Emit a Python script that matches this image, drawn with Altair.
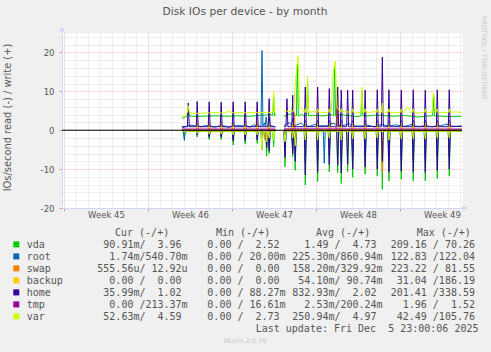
import altair as alt
import pandas as pd

# ---------------- static texts / categories ----------------
SERIES = ["vda", "root", "swap", "backup", "home", "tmp", "var"]
COLORS = ["#00CC00", "#0066B3", "#FF8000", "#FFCC00", "#330099", "#990099", "#CCFF00"]
TITLE = "Disk IOs per device - by month"
Y_TITLE = "IOs/second read (-) / write (+)"
HEADERS = ["Cur (-/+)", "Min (-/+)", "Avg (-/+)", "Max (-/+)"]
LEGEND_CUR = [" 90.91m/  3.96 ", "  1.74m/540.70m", "555.56u/ 12.92u", "  0.00 /  0.00 ",
              " 35.99m/  1.02 ", "  0.00 /213.37m", " 52.63m/  4.59 "]
LEGEND_MIN = ["  0.00 /  2.52 ", "  0.00 / 20.00m", "  0.00 /  0.00 ", "  0.00 /  0.00 ",
              "  0.00 / 88.27m", "  0.00 / 16.61m", "  0.00 /  2.73 "]
LEGEND_AVG = ["  1.49 /  4.73 ", "225.30m/860.94m", "158.20m/329.92m", " 54.10m/ 90.74m",
              "832.93m/  2.02 ", "  2.53m/200.24m", "250.94m/  4.97 "]
LEGEND_MAX = ["209.16 / 70.26 ", "122.83 /122.04 ", "223.22 / 81.55 ", " 31.04 /186.19 ",
              "201.41 /338.59 ", "  1.96 /  1.52 ", " 42.49 /105.76 "]
LAST_UPDATE = "Last update: Fri Dec  5 23:00:06 2025"
FOOTER = "Munin 2.0.76"
WATERMARK = "RRDTOOL / TOBI OETIKER"

# ---------------- axes (days since Monday of week 45) ----------------
WEEK_STARTS = [0, 7, 14, 21, 28]
WEEK_LABELS = ["Week 45", "Week 46", "Week 47", "Week 48", "Week 49"]
DAY_TICKS = list(range(0, 34))
Y_TICKS = list(range(-20, 25, 2))
X_MIN, X_MAX = -0.167, 33.17
Y_MIN, Y_MAX = -20, 25

# times of the nightly spikes
DAILY = [11.1, 12.1, 13.1, 14.1, 15.1, 16.1, 17.1,
         19.06, 20.11, 21.14, 22.11, 23.11, 24.06, 25.1, 26.11, 27.08, 28.11, 29.11, 30.11, 31.11, 32.11]
N = None

# ---------------- write (+) side ----------------
vda_w_base = [(9.83, 3.0), (10.1, 3.4), (10.6, 3.6), (11.5, 3.6), (12.5, 3.7), (13.5, 3.6), (14.5, 3.7),
              (15.5, 3.6), (16.3, 3.8), (17.3, 4.0), (17.62, 4.2), (18.33, 3.6), (18.9, 4.2), (19.8, 4.0),
              (20.7, 3.8), (21.6, 3.7), (22.3, 4.0), (23.0, 4.0), (23.9, 3.7), (24.5, 3.5), (25.5, 3.7),
              (26.0, 3.9), (27.5, 3.6), (28.4, 3.8), (29.5, 3.4), (30.5, 3.7), (31.5, 3.6), (32.5, 3.5),
              (33.15, 3.6)]
vda_w_daily = [N, N, N, N, N, N, N, N, N, N, N, N, N, N, N, N, N, N, N, N, N]
vda_w_extra = [(10.36, 5.8), (17.47, 8.8), (19.45, 17.0), (20.3, 12.5), (22.55, 16.5), (24.83, 10.0), (30.8, 8.5)]

root_w_base = [(9.83, 0.6), (10.5, 1.3), (11.4, 0.9), (11.8, 1.2), (12.5, 0.8), (13.4, 1.1), (13.8, 0.7),
               (14.6, 1.2), (15.5, 0.8), (15.8, 1.4), (16.3, 1.0), (16.7, 1.9), (17.3, 1.2), (17.62, 0.8),
               (18.33, 1.2), (18.8, 2.0), (19.4, 1.4), (19.8, 1.8), (20.5, 1.0), (21.0, 1.6), (21.7, 1.2),
               (22.3, 1.8), (23.0, 1.3), (23.8, 1.7), (24.5, 1.1), (25.3, 1.3), (25.9, 0.8), (26.4, 1.5),
               (27.0, 0.9), (27.6, 1.4), (28.4, 1.0), (29.0, 1.5), (29.6, 1.0), (30.2, 1.3), (30.7, 0.9),
               (31.4, 1.2), (32.0, 1.6), (32.6, 1.0), (33.15, 1.1)]
root_w_daily = [2.4, 2.0, 2.2, 2.0, 2.4, 2.0, 3.4, 3.0, 2.5, 2.5, 2.5, 2.5, 2.5, 2.5, 2.5, 2.5, 2.5, 2.5, 2.5, 2.5, 2.5]
root_w_extra = [(16.5, 20.5), (16.85, 3.4)]

swap_w_base = [(9.83, 0.05), (17.62, 0.05), (18.33, 0.05), (33.15, 0.05)]
swap_w_daily = [1.3, 1.3, 1.3, 1.3, 1.3, 1.3, 1.3, 1.5, 1.5, 1.5, 1.5, 1.5, 1.5, 1.5, 1.5, 1.5, 1.5, 1.5, 1.5, 1.5, 1.5]
swap_w_extra = [(19.2, 4.5), (22.75, 8.0)]

backup_w_base = [(9.83, 0.0), (17.62, 0.0), (18.33, 0.0), (33.15, 0.0)]
backup_w_daily = [2.5, 2.0, 2.0, 2.0, 2.0, 2.0, 2.0, 2.0, 2.0, 2.0, 2.0, 2.0, 2.0, 2.0, 2.0, 2.0, 2.0, 2.0, 2.0, 2.0, 2.0]
backup_w_extra = []

home_w_base = [(9.83, 0.9), (13.6, 0.85), (17.62, 0.9), (18.33, 0.9), (25.6, 1.0), (33.15, 1.0)]
home_w_daily = [7.4, 7.3, 7.2, 7.3, 7.3, 7.3, 8.1, 9.0, 11.1, 11.1, 10.7, 10.3, 10.3, 10.3, 10.4, 10.4, 10.3, 10.4, 10.3, 10.4, 10.4]
home_w_extra = [(10.36, 7.0), (18.58, 8.1), (22.81, 11.1), (23.64, 10.3), (26.53, 18.8)]

tmp_w_base = [(9.83, 0.3), (17.62, 0.3), (18.33, 0.35), (33.15, 0.3)]
tmp_w_daily = [N, N, N, N, N, N, N, N, N, N, N, N, N, N, N, N, N, N, N, N, N]
tmp_w_extra = []

var_w_base = [(9.83, 3.4), (10.1, 3.9), (10.7, 4.3), (11.6, 4.4), (12.6, 4.5), (13.4, 4.4), (13.75, 5.0),
              (14.0, 4.5), (15.0, 4.5), (16.0, 4.5), (16.8, 4.6), (17.62, 5.5), (18.33, 5.0), (18.9, 4.8),
              (19.15, 5.0), (19.27, 12.0), (19.5, 19.2), (19.65, 6.0), (19.9, 5.2), (20.8, 4.8), (21.5, 4.6),
              (22.28, 5.0), (22.39, 13.7), (22.61, 17.8), (22.75, 6.0), (23.3, 4.8), (24.2, 4.4), (25.5, 4.6),
              (26.0, 4.8), (27.5, 4.5), (28.3, 4.5), (28.6, 6.0), (28.75, 5.8), (28.9, 4.5), (29.4, 4.4),
              (30.3, 4.6), (30.68, 4.6), (30.78, 9.6), (30.86, 9.0), (30.95, 4.6), (31.5, 4.5), (32.5, 4.7),
              (33.15, 4.6)]
var_w_daily = [N, N, N, N, N, N, N, N, 5.5, 5.5, 5.5, 5.5, 5.5, 5.5, 5.5, 5.5, 5.5, 5.5, 5.5, 5.5, 5.5]
var_w_extra = [(10.36, 6.3), (17.47, 9.8), (20.3, 13.8), (24.83, 11.1), (26.53, 7.0)]

# ---------------- read (-) side ----------------
vda_r_base = [(9.83, -0.2), (12.6, -0.35), (17.62, -0.3), (18.33, -0.3), (21.6, -0.4), (27.6, -0.3), (33.15, -0.3)]
vda_r_daily = [-1.7, -2.4, -2.4, -3.8, -3.6, -3.4, -6.0, -6.8, -14.1, -13.2, -10.7, -13.7, -12.1, -11.3, -11.8,
               -13.0, -12.6, -13.0, -13.0, -12.4, -11.8]
vda_r_extra = [(10.03, -2.0), (16.5, -5.1), (16.89, -6.7), (17.47, -4.3), (18.42, -9.4), (19.27, -10.3),
               (22.81, -10.9), (23.64, -10.7), (26.53, -15.2)]

root_r_base = [(9.83, -0.1), (17.62, -0.1), (18.33, -0.15), (33.15, -0.1)]
root_r_daily = [-1.0, -1.5, -1.5, -2.2, -2.0, -2.0, -4.0, -5.0, -8.0, -7.5, -6.5, -8.0, -7.0, -7.0, -7.0,
                -7.5, -7.5, -7.5, -7.5, -7.0, -7.0]
root_r_extra = [(10.03, -2.6), (16.5, -4.5), (18.42, -6.0), (19.27, -6.5), (21.69, -8.5)]

swap_r_base = [(9.83, -0.05), (17.62, -0.05), (18.33, -0.05), (33.15, -0.05)]
swap_r_daily = [-0.4, -0.4, -0.4, -0.4, -0.4, -0.4, -0.4, -0.4, -0.4, -0.4, -0.4, -0.4, -0.4, -0.4, -0.4,
                -0.4, -0.4, -0.4, -0.4, -0.4, -0.4]
swap_r_extra = [(16.75, -2.5), (26.53, -10.7)]

backup_r_base = [(9.83, 0.0), (17.62, 0.0), (18.33, 0.0), (33.15, 0.0)]
backup_r_daily = [-0.6, -0.6, -0.6, -0.6, -0.6, -0.6, -0.6, -0.6, -0.6, -0.6, -0.6, -0.6, -0.6, -0.6, -0.6,
                  -0.6, -0.6, -0.6, -0.6, -0.6, -0.6]
backup_r_extra = []

home_r_base = [(9.83, -0.1), (17.62, -0.1), (18.33, -0.1), (33.15, -0.1)]
home_r_daily = [-1.2, -1.8, -1.8, -2.8, -2.7, -2.5, -5.4, -6.0, -11.5, -10.8, -8.8, -11.0, -10.0, -9.5, -10.0,
                -10.8, -10.5, -10.8, -10.8, -10.3, -10.0]
home_r_extra = [(16.89, -4.5), (18.42, -7.0), (19.27, -8.0), (22.81, -9.0), (23.64, -8.8), (26.53, -8.0)]

tmp_r_base = [(9.83, -0.05), (17.62, -0.05), (18.33, -0.05), (33.15, -0.05)]
tmp_r_daily = [N, N, N, N, N, N, N, N, N, N, N, N, N, N, N, N, N, N, N, N, N]
tmp_r_extra = []

var_r_base = [(9.83, -0.25), (17.62, -0.25), (18.33, -0.3), (33.15, -0.25)]
var_r_daily = [-0.8, -1.0, -1.0, -1.2, -1.2, -1.2, -2.0, -2.0, -2.5, -2.5, -2.0, -2.5, -2.2, -2.2, -2.0,
               -2.5, -2.2, -2.2, -2.2, -2.0, -2.0]
var_r_extra = [(16.5, -5.0), (16.89, -3.0), (17.47, -2.5), (18.42, -3.0), (19.27, -4.0)]

DATA = {
    ("vda", "read"): (vda_r_base, -0.3, vda_r_daily, vda_r_extra),
    ("vda", "write"): (vda_w_base, 3.7, vda_w_daily, vda_w_extra),
    ("root", "read"): (root_r_base, -0.1, root_r_daily, root_r_extra),
    ("root", "write"): (root_w_base, 1.1, root_w_daily, root_w_extra),
    ("swap", "read"): (swap_r_base, -0.05, swap_r_daily, swap_r_extra),
    ("swap", "write"): (swap_w_base, 0.05, swap_w_daily, swap_w_extra),
    ("backup", "read"): (backup_r_base, 0.0, backup_r_daily, backup_r_extra),
    ("backup", "write"): (backup_w_base, 0.0, backup_w_daily, backup_w_extra),
    ("home", "read"): (home_r_base, -0.1, home_r_daily, home_r_extra),
    ("home", "write"): (home_w_base, 0.9, home_w_daily, home_w_extra),
    ("tmp", "read"): (tmp_r_base, -0.05, tmp_r_daily, tmp_r_extra),
    ("tmp", "write"): (tmp_w_base, 0.3, tmp_w_daily, tmp_w_extra),
    ("var", "read"): (var_r_base, -0.25, var_r_daily, var_r_extra),
    ("var", "write"): (var_w_base, 4.6, var_w_daily, var_w_extra),
}

# ---------------- build long table ----------------
W = 0.08
rows = []
for name in SERIES:
    for kind in ("read", "write"):
        base, level, daily, extra = DATA[(name, kind)]
        spikes = [(t, p) for t, p in zip(DAILY, daily) if p is not None] + list(extra)
        pts = [(t, v) for t, v in base if all(abs(t - s) > 0.09 for s, _ in spikes)]
        for s, p in spikes:
            pts += [(s - W, level), (s, p), (s + W, level)]
        pts.sort()
        for t, v in pts:
            rows.append({"key": f"{name}_{kind}", "t": t, "v": v, "seg": 0 if t < 18 else 1})
df = pd.DataFrame(rows)
one = pd.DataFrame({"k": [0]})

# ---------------- scales / axes ----------------
MINOR = "#DFDFDF"
MAJOR = "#F3B1B1"
AXIS = "#CFD6F8"
FONT = "DejaVu Sans"
MONO = "DejaVu Sans Mono"
TXT = "#555555"

mids = [w + 3.5 for w in WEEK_STARTS]
lab_expr = "''"
for m, lab in reversed(list(zip(mids, WEEK_LABELS))):
    lab_expr = f"datum.value === {m} ? '{lab}' : {lab_expr}"

xscale = alt.Scale(domain=[X_MIN, X_MAX], nice=False, zero=False)
yscale = alt.Scale(domain=[Y_MIN, Y_MAX], nice=False, zero=False)
xaxis = alt.Axis(
    values=DAY_TICKS + mids, title=None, labelExpr=lab_expr,
    grid=True, gridDash=[1, 1],
    gridColor={"condition": {"test": "datum.value % 7 === 0", "value": MAJOR}, "value": MINOR},
    gridOpacity={"condition": {"test": "datum.value % 1 !== 0", "value": 0}, "value": 1},
    ticks=True, tickSize=3,
    tickColor={"condition": {"test": "datum.value % 7 === 0", "value": "#E89090"}, "value": MINOR},
    tickOpacity={"condition": {"test": "datum.value % 7 === 0", "value": 1}, "value": 0},
    domainColor=AXIS, labelColor=TXT, labelFont=FONT, labelFontSize=8.5,
    labelPadding=-1, labelFlush=False, labelOverlap=False, labelBound=False,
)
yaxis = alt.Axis(
    values=Y_TICKS, title=None,
    labelExpr="datum.value % 10 === 0 ? '' + datum.value : ''",
    grid=True, gridDash=[1, 1],
    gridColor={"condition": {"test": "datum.value % 10 === 0", "value": MAJOR}, "value": MINOR},
    ticks=True, tickSize=3,
    tickColor={"condition": {"test": "datum.value % 10 === 0", "value": "#E89090"}, "value": MINOR},
    domainColor=AXIS, labelColor=TXT, labelFont=FONT, labelFontSize=8.5,
    labelPadding=5, labelFlush=False, labelOverlap=False, labelBound=False,
)
X = alt.X("t:Q", scale=xscale, axis=xaxis)
Y = alt.Y("v:Q", scale=yscale, axis=yaxis)

layers = []
for name, col in zip(SERIES, COLORS):
    for kind in ("read", "write"):
        key = f"{name}_{kind}"
        layers.append(
            alt.Chart(df).transform_filter(alt.datum.key == key)
            .mark_line(color=col, strokeWidth=1, clip=True)
            .encode(x=X, y=Y, detail="seg:N", order="t:Q")
        )

# zero line
layers.append(alt.Chart(one).mark_rule(color="black", strokeWidth=1)
              .encode(y=alt.YDatum(0, type="quantitative", scale=yscale, axis=yaxis)))

OX, OY = 62, 33


def txt(s, x, y, size, color, font, align="left", baseline="alphabetic", angle=None):
    # zero-width lead char keeps leading (non-breaking) spaces from being trimmed
    kw = dict(text="\u200b" + s.replace(" ", "\u00a0"), align=align, baseline=baseline,
              fontSize=size, color=color, font=font)
    if angle is not None:
        kw["angle"] = angle
    return alt.Chart(one).mark_text(**kw).encode(x=alt.value(x - OX), y=alt.value(y - OY))


# axis arrows
layers.append(alt.Chart(one).mark_rule(color=AXIS).encode(
    x=alt.value(0), y=alt.value(-4), y2=alt.value(0)))
layers.append(alt.Chart(one).mark_point(shape="triangle-up", filled=True, color=AXIS, opacity=1, size=28)
              .encode(x=alt.value(0), y=alt.value(-4)))
layers.append(alt.Chart(one).mark_rule(color=AXIS).encode(
    x=alt.value(400), x2=alt.value(403), y=alt.value(175)))
layers.append(alt.Chart(one).mark_point(shape="triangle-right", filled=True, color=AXIS, opacity=1, size=28)
              .encode(x=alt.value(403), y=alt.value(175)))

# titles
layers.append(txt(TITLE, 245, 15, 10.7, "#555555", FONT, align="center"))
layers.append(txt(Y_TITLE, 7.5, 117.5, 9.9, "#555555", FONT, align="center", baseline="middle", angle=270))
layers.append(txt(WATERMARK, 484, 57.5, 6.5, "#C8C8C8", FONT, align="center", baseline="middle", angle=90))

# legend
for h, hx in zip(HEADERS, [115, 216, 316, 416.7]):
    layers.append(txt(h, hx, 235.7, 10, TXT, MONO))
for i, (name, col) in enumerate(zip(SERIES, COLORS)):
    cy = 244.4 + 12 * i
    by = 247.9 + 12 * i
    layers.append(alt.Chart(one).mark_square(size=36, color=col, filled=True, opacity=1)
                  .encode(x=alt.value(16.3 - OX), y=alt.value(cy - OY)))
    layers.append(txt(name, 26.7, by, 10, TXT, MONO))
    for arr, cx in zip([LEGEND_CUR, LEGEND_MIN, LEGEND_AVG, LEGEND_MAX], [97.3, 195.3, 292.3, 390.7]):
        layers.append(txt(arr[i], cx, by, 10, TXT, MONO))
layers.append(txt(LAST_UPDATE, 255.7, 331.6, 10, TXT, MONO))
layers.append(txt(FOOTER, 245, 343.3, 6.5, "#C8C8C8", FONT, align="center"))

chart = (
    alt.layer(*layers)
    .properties(width=400, height=175, autosize=alt.AutoSizeParams(type="none"),
                padding={"left": OX, "top": OY, "right": 29, "bottom": 144},
                background="#F0F0F0")
    .configure_view(fill="white", stroke="transparent")
)
chart.save("out.html", embed_options={"renderer": "svg", "actions": False})
